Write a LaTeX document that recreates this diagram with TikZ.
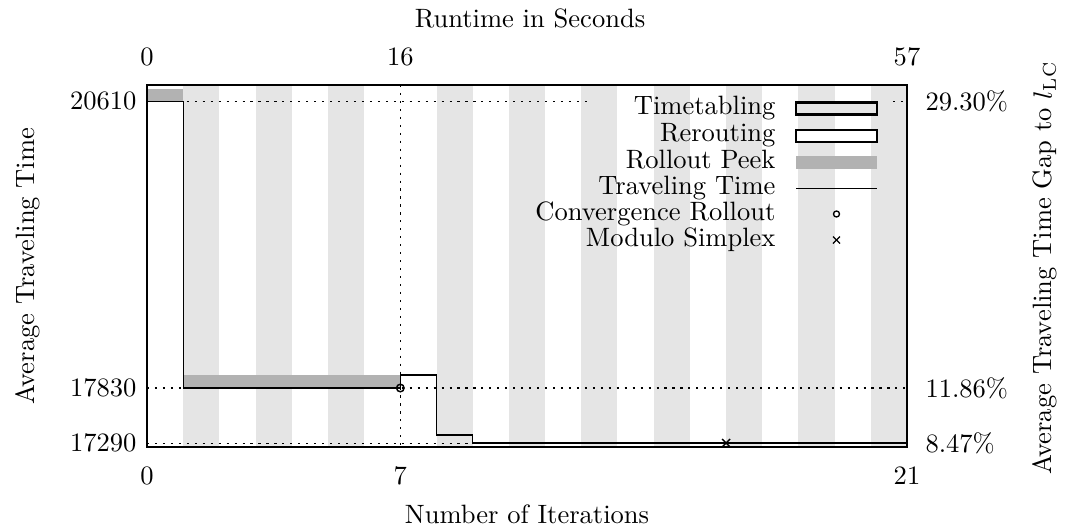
\documentclass[tikz,border=0pt]{standalone}
\usetikzlibrary{calc}
\begin{document}
\begin{tikzpicture}[x=0.01325cm,y=-0.01325cm,
  stripe/.style={fill=black!10, draw=none},
  peek/.style={fill=black!30, draw=none},
  gridline/.style={line width=0.4pt, dash pattern=on 0.8pt off 2.2pt},
  ttline/.style={line width=0.5pt},
  framebox/.style={line width=1.05pt},
  legbox/.style={line width=1pt},
  lbl/.style={inner sep=0pt},
]
\useasboundingbox (0,0) rectangle (1067,529);
% stripes
\foreach \a in {1,3,5,8,10,12,14,16,18,20}
  \fill[stripe] ({147+36.1905*\a},85) rectangle ({147+36.1905*(\a+1)},447);
% grid lines
\draw[gridline] (147,101.3) -- (590,101.3);
\draw[gridline] (893,101.3) -- (907,101.3);
\draw[gridline] (147,388) -- (907,388);
\draw[gridline] (147,443.8) -- (907,443.8);
\draw[gridline] (400.33,85) -- (400.33,447);
% rollout peek bars
\fill[peek] (147,89) rectangle (183.19,101.3);
\fill[peek] (183.19,375) rectangle (400.33,388);
% traveling time
\draw[ttline] (147,101.3) -| (183.19,388) -- (400.33,388) |- (436.52,375) |- (472.71,435) |- (907,443);
% markers
\coordinate (conv) at (400.33,388);
\coordinate (mod) at (726.1,443);
\draw[line width=0.55pt] (conv) circle (0.05cm);
\draw[line width=0.5pt] ($(mod)+(-4,-4)$) -- ($(mod)+(4,4)$);
\draw[line width=0.5pt] ($(mod)+(-4,4)$) -- ($(mod)+(4,-4)$);
% frame
\draw[framebox] (147,85) rectangle (907,447);
% legend
\node[lbl, anchor=mid east] (l1) at (776,109) {Timetabling};
\node[lbl, anchor=mid east] (l2) at (776,136) {Rerouting};
\node[lbl, anchor=mid east] (l3) at (776,162.5) {Rollout Peek};
\node[lbl, anchor=mid east] (l4) at (776,189) {Traveling Time};
\node[lbl, anchor=mid east] (l5) at (776,215) {Convergence Rollout};
\node[lbl, anchor=mid east] (l6) at (776,241) {Modulo Simplex};
\draw[legbox, fill=black!10] (796,102.5) rectangle (877,114.5);
\draw[legbox, fill=white] (796,130) rectangle (877,142);
\fill[peek] (796,155.5) rectangle (877,168.5);
\draw[ttline] (796,188.5) -- (877,188.5);
\draw[line width=0.5pt] (836.5,214) circle (0.04cm);
\draw[line width=0.5pt] (833,236.5) -- (840,243.5);
\draw[line width=0.5pt] (833,243.5) -- (840,236.5);
% left ticks
\node[lbl, anchor=east] (yl1) at (137,101.3) {20610};
\node[lbl, anchor=east] (yl2) at (137,388) {17830};
\node[lbl, anchor=east] (yl3) at (137,443.3) {17290};
% right ticks
\node[lbl, anchor=west] (yr1) at (925,101.3) {29.30\%};
\node[lbl, anchor=west] (yr2) at (925,388) {11.86\%};
\node[lbl, anchor=west] (yr3) at (925,443.3) {8.47\%};
% bottom ticks
\node[lbl] (xb1) at (147,476) {0};
\node[lbl] (xb2) at (400.33,476) {7};
\node[lbl] (xb3) at (907,476) {21};
% top ticks
\node[lbl] (xt1) at (147,57) {0};
\node[lbl] (xt2) at (400.33,57) {16};
\node[lbl] (xt3) at (907,57) {57};
% axis labels
\node[lbl] (xlab) at (527,514) {Number of Iterations};
\node[lbl] (tlab) at (530,18) {Runtime in Seconds};
\node[lbl, rotate=90] (ylab) at (28,266) {Average Traveling Time};
\node[lbl, rotate=90] (y2lab) at (1045,268) {Average Traveling Time Gap to $l_{\mathrm{LC}}$};
\end{tikzpicture}
\end{document}
